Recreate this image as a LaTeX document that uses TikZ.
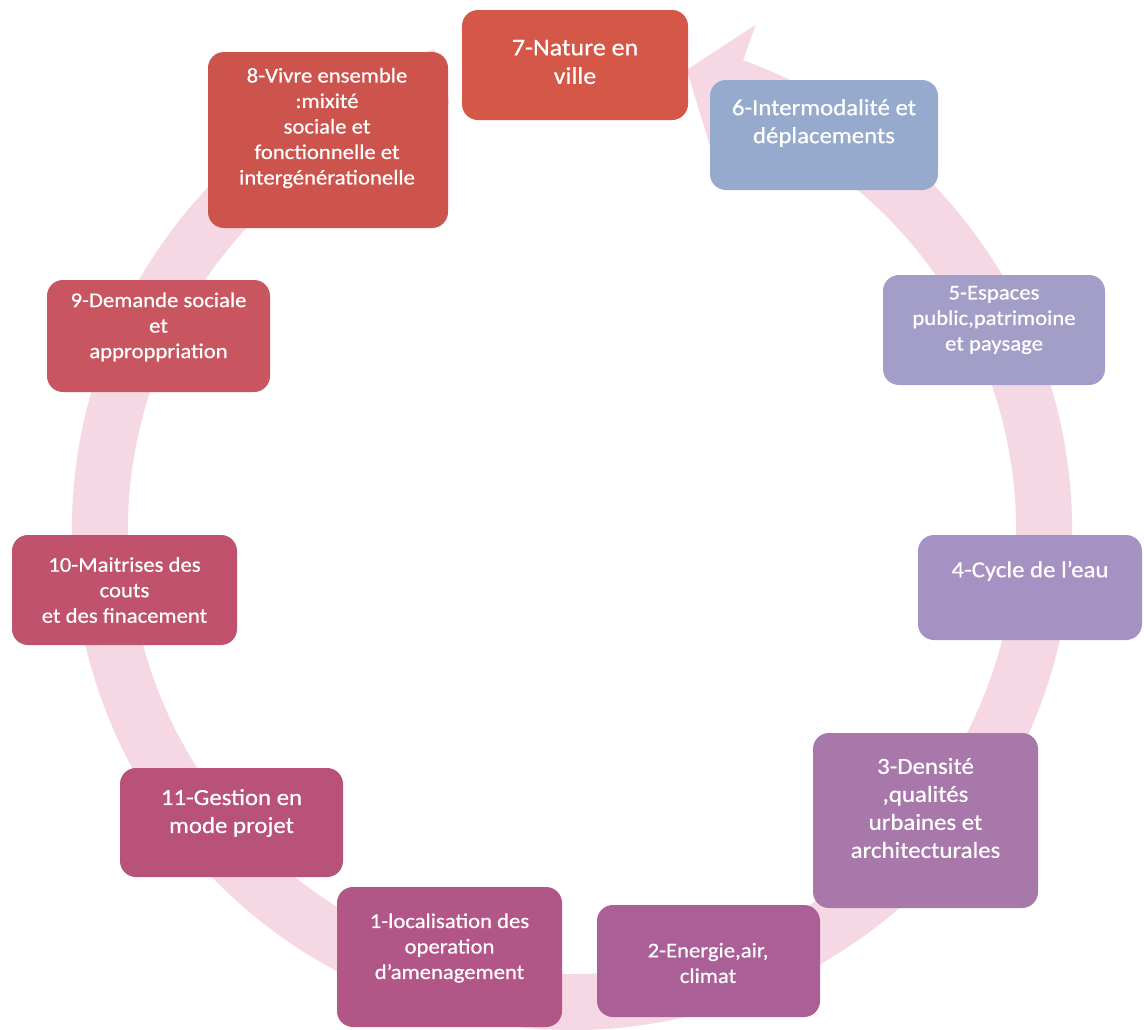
\documentclass[tikz,border=0pt]{standalone}
\usepackage{fontspec}
\setmainfont{Carlito}[FakeStretch=1.08,FakeBold=0.6]
\definecolor{ringpink}{RGB}{246,216,229}
\definecolor{c7}{RGB}{213,87,72}
\definecolor{c8}{RGB}{205,83,77}
\definecolor{c6}{RGB}{150,170,205}
\definecolor{c5}{RGB}{162,158,200}
\definecolor{c4}{RGB}{165,146,195}
\definecolor{c3}{RGB}{168,120,170}
\definecolor{c2}{RGB}{170,95,150}
\definecolor{c1}{RGB}{178,85,135}
\definecolor{c11}{RGB}{185,82,120}
\definecolor{c10}{RGB}{192,82,110}
\definecolor{c9}{RGB}{200,85,95}
\begin{document}
\begin{tikzpicture}[x=1pt,y=-1pt,
  box/.style={draw=none, rounded corners=16pt, inner sep=0pt},
  txt/.style={text=white, align=center, inner sep=0pt},
  fa/.style={font=\fontsize{21}{25.5}\selectfont},
  fb/.style={font=\fontsize{23}{28}\selectfont},
  fc/.style={font=\fontsize{24}{28.5}\selectfont}]
\useasboundingbox (0,0) rectangle (1144,1029);
\fill[white] (0,0) rectangle (1144,1029);
% circular arrow ring
\begin{scope}[shift={(572,530)}]
\fill[ringpink] (-106:500) arc[start angle=-106, end angle=-430, radius=500]
  -- (-430:538) -- (-436:474) -- (-430:406) -- (-430:444)
  arc[start angle=-430, end angle=-106, radius=444] -- cycle;
\end{scope}
% boxes
\node[box, fill=c7, minimum width=226pt, minimum height=110pt] (b7) at (575,65) {};
\node[box, fill=c8, minimum width=240pt, minimum height=176pt] (b8) at (328,140) {};
\node[box, fill=c6, minimum width=228pt, minimum height=110pt] (b6) at (824,135) {};
\node[box, fill=c5, minimum width=222pt, minimum height=110pt] (b5) at (994,330) {};
\node[box, fill=c4, minimum width=224pt, minimum height=105pt] (b4) at (1030,587.5) {};
\node[box, fill=c3, minimum width=225pt, minimum height=175pt] (b3) at (925.5,820.5) {};
\node[box, fill=c2, minimum width=223pt, minimum height=112pt] (b2) at (708.5,961) {};
\node[box, fill=c1, minimum width=225pt, minimum height=140pt] (b1) at (449.5,957) {};
\node[box, fill=c11, minimum width=223pt, minimum height=109pt] (b11) at (231.5,822.5) {};
\node[box, fill=c10, minimum width=225pt, minimum height=110pt] (b10) at (124.5,590) {};
\node[box, fill=c9, minimum width=223pt, minimum height=112pt] (b9) at (158.5,336) {};
% texts
\node[txt, fc] (t7) at (575,62) {7-Nature en\\ville};
\node[txt, fa] (t8) at (327,128) {8-Vivre ensemble\\:mixité\\sociale et\\fonctionnelle et\\intergénérationelle};
\node[txt, fb] (t6) at (824,123) {6-Intermodalité et\\déplacements};
\node[txt, fa] (t5) at (994,320) {5-Espaces\\public,patrimoine\\et paysage};
\node[txt, fb] (t4) at (1030,571) {4-Cycle de l'eau};
\node[txt, fb] (t3) at (925.5,808) {3-Densité\\,qualités\\urbaines et\\architecturales};
\node[txt, fa] (t2) at (708,963) {2-Energie,air,\\climat};
\node[txt, fa] (t1) at (449.5,948) {1-localisation des\\operation\\d'amenagement};
\node[txt, fb] (t11) at (231.5,813) {11-Gestion en\\mode projet};
\node[txt, fa] (t10) at (124.5,590) {10-Maitrises des\\couts\\et des finacement};
\node[txt, fa] (t9) at (158.5,327) {9-Demande sociale\\et\\approppriation};
\end{tikzpicture}
\end{document}
